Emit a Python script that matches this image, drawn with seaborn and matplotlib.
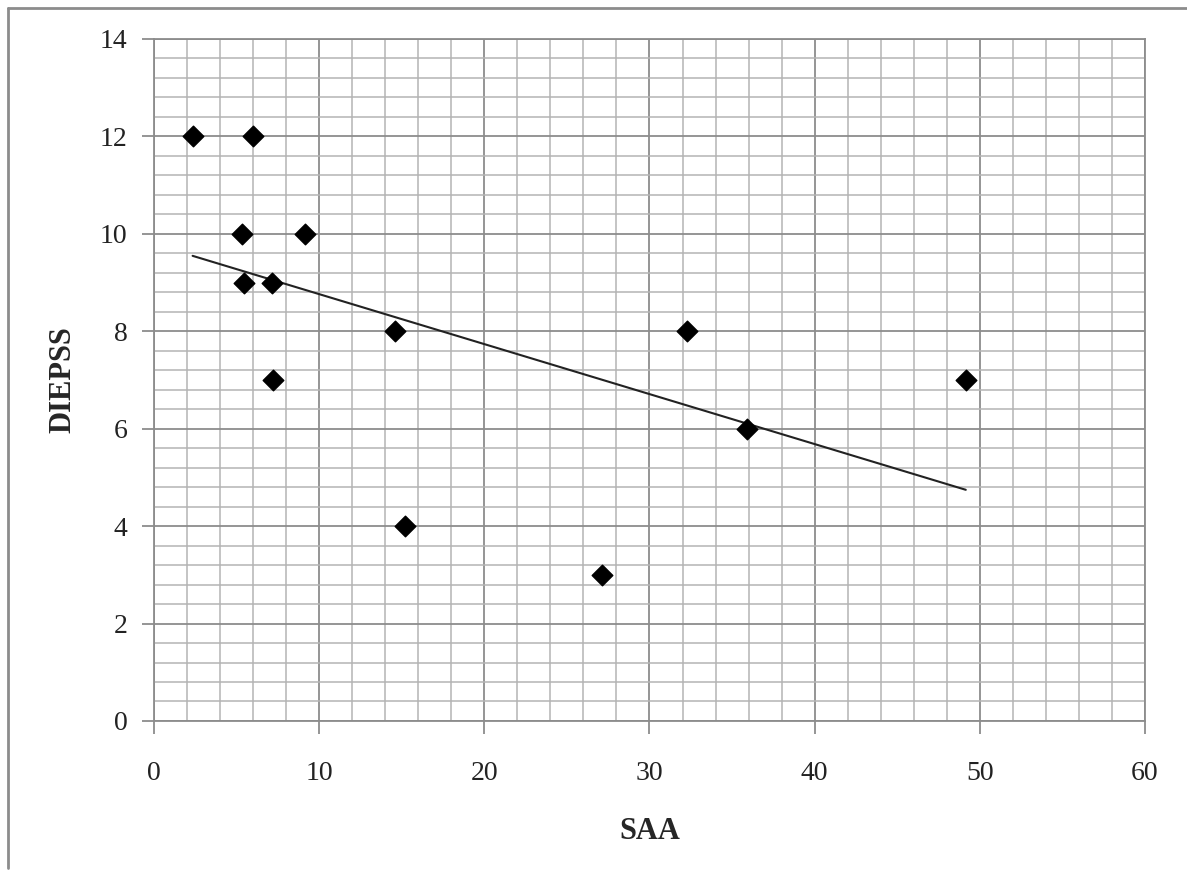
import numpy as np
import pandas as pd
import matplotlib
matplotlib.use('Agg')
import matplotlib.pyplot as plt
from matplotlib.lines import Line2D
from matplotlib.ticker import MultipleLocator
import seaborn as sns

# values
saa = [2.34, 6.01, 5.31, 9.14, 5.47, 7.12, 14.6, 7.22, 15.2, 27.1, 32.3, 35.9, 49.15]
diepss = [12, 12, 10, 10, 9, 9, 8, 7, 4, 3, 8, 6, 7]

df = pd.DataFrame({'SAA': saa, 'DIEPSS': diepss})

sns.set_style('white')
plt.rcParams['font.family'] = ['Liberation Serif', 'DejaVu Serif']

fig = plt.figure(figsize=(11.87, 8.72), dpi=100)
ax = fig.add_axes([0.1297, 0.1732, 0.8349, 0.7821])

# Excel-like grid
ax.set_xlim(0, 60)
ax.set_ylim(0, 14)
ax.xaxis.set_major_locator(MultipleLocator(10))
ax.xaxis.set_minor_locator(MultipleLocator(2))
ax.yaxis.set_major_locator(MultipleLocator(2))
ax.yaxis.set_minor_locator(MultipleLocator(0.4))
ax.grid(which='major', color='#8c8c8c', linewidth=1.3)
ax.grid(which='minor', color='#b4b4b4', linewidth=1.1)
ax.set_axisbelow(True)

sns.regplot(data=df, x='SAA', y='DIEPSS', ax=ax, ci=None, truncate=True,
            marker='D',
            scatter_kws={'color': 'black', 's': 110, 'zorder': 3, 'alpha': 1},
            line_kws={'color': '#222222', 'linewidth': 1.5, 'zorder': 2})

ax.set_xlim(0, 60)
ax.set_ylim(0, 14)

for s in ax.spines.values():
    s.set_color('#8c8c8c')
    s.set_linewidth(1.3)

ax.tick_params(which='major', direction='out', length=9, width=1.3,
               color='#8c8c8c', labelsize=20, labelcolor='#222222')
ax.tick_params(axis='x', which='major', pad=20)
ax.tick_params(axis='y', which='major', pad=10)
ax.tick_params(which='minor', length=0)
ax.tick_params(bottom=True, left=True)

ax.set_xlabel('SAA', fontsize=22, fontweight='bold', labelpad=22)
ax.set_ylabel('DIEPSS', fontsize=22, fontweight='bold', labelpad=16)

# outer frame (left and top edges)
fig.add_artist(Line2D([8 / 1187, 8 / 1187], [1 - 8 / 872, 1 - 868 / 872],
                      transform=fig.transFigure, color='#8c8c8c', linewidth=2))
fig.add_artist(Line2D([8 / 1187, 1.0], [1 - 8 / 872, 1 - 8 / 872],
                      transform=fig.transFigure, color='#8c8c8c', linewidth=2))

fig.savefig('out.png', dpi=100)
